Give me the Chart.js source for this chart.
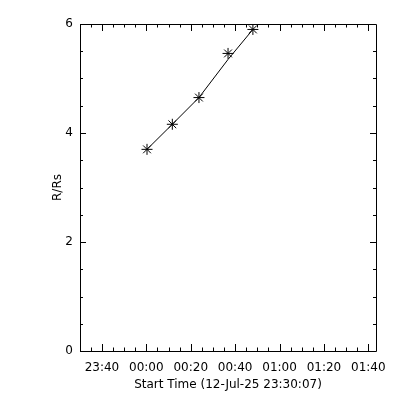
<!DOCTYPE html>
<html>
<head>
<meta charset="utf-8">
<script src="https://cdn.jsdelivr.net/npm/chart.js@4.4.1/dist/chart.umd.min.js"></script>
<style>
  body { margin: 0; background: #fff; }
  canvas { display: block; }
</style>
</head>
<body>
<canvas id="grafico" width="400" height="400"></canvas>
<script>
// tempos em minutos a partir de 00:00 (13-Jul), inicio em 23:30:07
const tempos = [0.3, 11.7, 23.7, 36.8, 48.0];
const raios = [3.70, 4.16, 4.65, 5.46, 5.90];
// curva ajustada
const ajuste = [3.70, 4.16, 4.65, 5.35, 5.90];
const xMajor = [-20, 0, 20, 40, 60, 80, 100];
const yMajor = [0, 2, 4, 6];
const xMin = -29.883, xMax = 103.45;

function formatHora(m) {
    let t = ((m % 1440) + 1440) % 1440;
    let h = Math.floor(t / 60), mm = Math.round(t % 60);
    return String(h).padStart(2, '0') + ':' + String(mm).padStart(2, '0');
}

// desenha a caixa e os ticks para dentro, estilo IDL
const caixaPlugin = {
    id: 'caixa',
    afterDraw(chart) {
        const ctx = chart.ctx;
        const a = chart.chartArea;
        const sx = chart.scales.x, sy = chart.scales.y;
        ctx.save();
        ctx.strokeStyle = '#000';
        ctx.lineWidth = 1;
        ctx.beginPath();
        ctx.rect(Math.round(a.left) + 0.5, Math.round(a.top) + 0.5, Math.round(a.right - a.left), Math.round(a.bottom - a.top));
        // ticks do eixo x (baixo e cima)
        for (let v = -25; v <= xMax; v += 5) {
            const px = Math.round(sx.getPixelForValue(v)) + 0.5;
            const len = (v % 20 === 0) ? 7 : 3.5;
            ctx.moveTo(px, a.bottom); ctx.lineTo(px, a.bottom - len);
            ctx.moveTo(px, a.top); ctx.lineTo(px, a.top + len);
        }
        // ticks do eixo y (esquerda e direita)
        for (let v = 0; v <= 6; v += 0.5) {
            const py = Math.round(sy.getPixelForValue(v)) + 0.5;
            const len = (v % 2 === 0) ? 6 : 3;
            ctx.moveTo(a.left, py); ctx.lineTo(a.left + len, py);
            ctx.moveTo(a.right, py); ctx.lineTo(a.right - len, py);
        }
        ctx.stroke();
        ctx.restore();
    }
};

const fonte = { family: 'DejaVu Sans', size: 12 };

new Chart(document.getElementById('grafico'), {
    type: 'scatter',
    data: {
        datasets: [{
            label: 'ajuste',
            data: tempos.map((t, i) => ({ x: t, y: ajuste[i] })),
            showLine: true,
            borderColor: '#000',
            borderWidth: 1,
            pointRadius: 0
        }, {
            label: 'R/Rs',
            data: tempos.map((t, i) => ({ x: t, y: raios[i] })),
            showLine: false,
            pointStyle: 'star',
            pointRadius: 5.5,
            borderColor: '#000',
            backgroundColor: '#000',
            borderWidth: 1
        }]
    },
    options: {
        responsive: false,
        animation: false,
        layout: { padding: { top: 24, right: 24, left: 0, bottom: 0 } },
        plugins: { legend: { display: false }, tooltip: { enabled: false } },
        scales: {
            x: {
                type: 'linear',
                min: xMin,
                max: xMax,
                afterBuildTicks: s => { s.ticks = xMajor.map(v => ({ value: v })); },
                afterFit: s => { s.height = 49; },
                grid: { display: false, drawTicks: false },
                border: { display: false },
                ticks: { color: '#000', font: fonte, padding: 10, maxRotation: 0, autoSkip: false, callback: v => formatHora(v) },
                title: { display: true, text: 'Start Time (12-Jul-25 23:30:07)', color: '#000', font: fonte, padding: { top: 0, bottom: 8 } }
            },
            y: {
                min: 0,
                max: 6,
                afterBuildTicks: s => { s.ticks = yMajor.map(v => ({ value: v })); },
                afterFit: s => { s.width = 80; },
                grid: { display: false, drawTicks: false },
                border: { display: false },
                ticks: { color: '#000', font: fonte, padding: 7 },
                title: { display: true, text: 'R/Rs', color: '#000', font: fonte, padding: { top: 51, bottom: 0 } }
            }
        }
    },
    plugins: [caixaPlugin]
});
</script>
</body>
</html>
